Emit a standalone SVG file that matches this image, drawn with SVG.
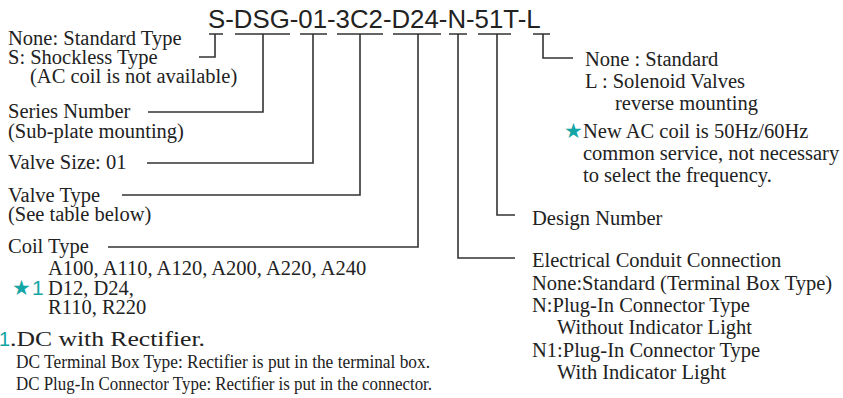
<svg xmlns="http://www.w3.org/2000/svg" width="843" height="398" viewBox="0 0 843 398">
<style>
.t{font-family:"Liberation Serif","Times New Roman",serif;font-size:20.5px;fill:#222}
.s{font-family:"Liberation Serif","Times New Roman",serif;font-size:19px;fill:#222}
.code{font-family:"Liberation Sans",Arial,sans-serif;font-size:25.8px;fill:#222}
.teal{font-family:"Liberation Sans",Arial,sans-serif;fill:#14a6a6}
.star{font-family:"DejaVu Sans",sans-serif;fill:#14a6a6}
.ln{fill:none;stroke:#333;stroke-width:1.6}
</style>
<rect width="843" height="398" fill="#fff"/>
<g id="code">
<text class="code" x="208" y="28">S-DSG-01-3C2-D24-N-51T-L</text>
</g>
<g id="connectors" class="ln">
<path d="M209 34H223M235 34H290M300 34H327M337 34H383M393 34H441M449 34H467M478 34H511M533 34H550"/>
<path d="M215 34V57H199"/>
<path d="M263 34V112H148"/>
<path d="M313 34V163H147"/>
<path d="M360 34V195H122"/>
<path d="M418 34V247H108"/>
<path d="M458 34V258H515"/>
<path d="M497 34V215H515"/>
<path d="M543 34V58H573"/>
</g>
<g id="type">
<text class="t" x="8" y="45">None: Standard Type</text>
<text class="t" x="8" y="64">S: Shockless Type</text>
<text class="t" x="30" y="83">(AC coil is not available)</text>
</g>
<g id="series">
<text class="t" x="8" y="118">Series Number</text>
<text class="t" x="8" y="138">(Sub-plate mounting)</text>
</g>
<g id="size">
<text class="t" x="8" y="169">Valve Size: 01</text>
</g>
<g id="valvetype">
<text class="t" x="8" y="202">Valve Type</text>
<text class="t" x="8" y="221">(See table below)</text>
</g>
<g id="coil">
<text class="t" x="8" y="253">Coil Type</text>
<text class="t" x="48" y="275">A100, A110, A120, A200, A220, A240</text>
<text class="star" x="12" y="295" font-size="21">★</text>
<text class="teal" x="32" y="295" font-size="21">1</text>
<text class="t" x="48" y="295">D12, D24,</text>
<text class="t" x="48" y="314">R110, R220</text>
</g>
<g id="note">
<text class="teal" x="-1" y="346" font-size="20">1</text>
<text class="t" x="10" y="346" font-size="23" textLength="195" lengthAdjust="spacingAndGlyphs">.DC with Rectifier.</text>
<text class="s" x="16" y="368" textLength="414" lengthAdjust="spacingAndGlyphs">DC Terminal Box Type: Rectifier is put in the terminal box.</text>
<text class="s" x="16" y="390" textLength="416" lengthAdjust="spacingAndGlyphs">DC Plug-In Connector Type: Rectifier is put in the connector.</text>
</g>
<g id="mounting">
<text class="t" x="585" y="66">None : Standard</text>
<text class="t" x="585" y="88">L : Solenoid Valves</text>
<text class="t" x="615" y="110">reverse mounting</text>
</g>
<g id="acnote">
<text class="star" x="564" y="138" font-size="21">★</text>
<text class="t" x="583" y="138">New AC coil is 50Hz/60Hz</text>
<text class="t" x="583" y="160">common service, not necessary</text>
<text class="t" x="583" y="182">to select the frequency.</text>
</g>
<g id="design">
<text class="t" x="532" y="225">Design Number</text>
</g>
<g id="conduit">
<text class="t" x="532" y="267">Electrical Conduit Connection</text>
<text class="t" x="532" y="290">None:Standard (Terminal Box Type)</text>
<text class="t" x="532" y="312">N:Plug-In Connector Type</text>
<text class="t" x="557" y="334">Without Indicator Light</text>
<text class="t" x="532" y="357">N1:Plug-In Connector Type</text>
<text class="t" x="557" y="379">With Indicator Light</text>
</g>
</svg>
